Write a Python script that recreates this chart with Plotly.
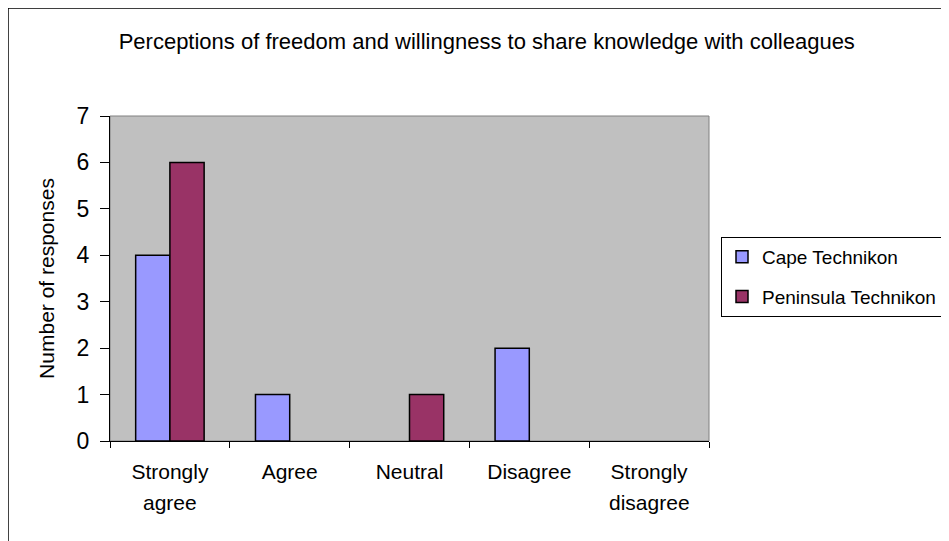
import plotly.graph_objects as go

categories = ["Strongly agree", "Agree", "Neutral", "Disagree", "Strongly disagree"]
label_line1 = ["Strongly", "Agree", "Neutral", "Disagree", "Strongly"]
label_line2 = ["agree", "", "", "", "disagree"]
cape = [4, 1, 0, 2, 0]
peninsula = [6, 0, 1, 0, 0]
y_ticks = [0, 1, 2, 3, 4, 5, 6, 7]

FONT = "Liberation Sans, Arial, sans-serif"

fig = go.Figure()
fig.add_trace(go.Bar(
    x=categories, y=cape, name="Cape Technikon", legendgroup="a",
    marker=dict(color="#9999FF",
                line=dict(color="black", width=[1.5 if v else 0 for v in cape])),
))
fig.add_trace(go.Bar(
    x=categories, y=peninsula, name="Peninsula Technikon", legendgroup="b",
    marker=dict(color="#993366",
                line=dict(color="black", width=[1.5 if v else 0 for v in peninsula])),
))

for c, t in zip(categories, label_line2):
    if t:
        fig.add_annotation(x=c, xref="x", y=0, yref="y", yshift=-48, text=t,
                           showarrow=False, yanchor="top",
                           font=dict(family=FONT, size=21, color="black"))

fig.add_shape(type="rect", xref="paper", yref="paper", x0=0, x1=1, y0=0, y1=1,
              line=dict(color="#808080", width=1), layer="below")
fig.add_shape(type="rect", xref="paper", yref="paper", x0=-0.1703, x1=1.6, y0=-0.6, y1=1.3323,
              line=dict(color="black", width=1.5), layer="below")

fig.update_layout(
    width=949, height=541,
    margin=dict(l=102, r=248, t=108, b=108),
    paper_bgcolor="white", plot_bgcolor="#C0C0C0",
    barmode="group", bargap=0.4286, bargroupgap=0,
    font=dict(family=FONT, color="black"),
    title=dict(text="Perceptions of freedom and willingness to share knowledge with colleagues",
               x=0.629, xref="paper", xanchor="center", y=0.939, yanchor="middle",
               font=dict(family=FONT, size=22, color="black")),
    legend=dict(xref="container", yref="container", x=713 / 949, xanchor="left",
                y=1 - 269 / 541, yanchor="middle",
                bordercolor="black", borderwidth=1, bgcolor="white",
                tracegroupgap=12, font=dict(family=FONT, size=19, color="black")),
    xaxis=dict(tickmode="array", tickvals=categories, ticktext=label_line1,
               tickson="boundaries", ticks="outside", ticklen=6, tickcolor="black",
               ticklabelstandoff=12,
               showline=True, linecolor="black", linewidth=1, showgrid=False,
               tickfont=dict(family=FONT, size=21, color="black")),
    yaxis=dict(range=[0, 7], tickmode="array", tickvals=y_ticks,
               ticks="outside", ticklen=9, tickcolor="black",
               ticklabelstandoff=6,
               showline=True, linecolor="black", linewidth=1, showgrid=False, zeroline=False,
               tickfont=dict(family=FONT, size=23, color="black"),
               title=dict(text="Number of responses", standoff=16,
                          font=dict(family=FONT, size=21, color="black"))),
)

fig.write_html("out.html")
